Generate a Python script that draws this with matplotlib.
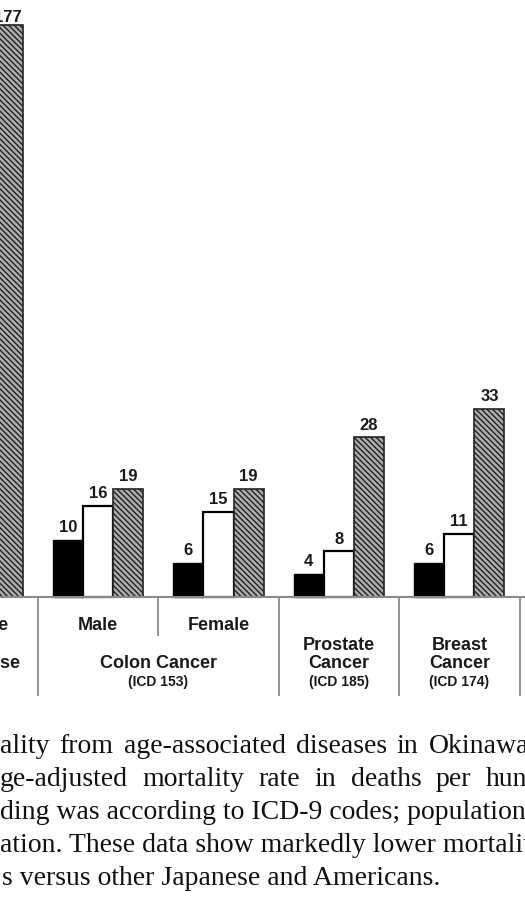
import matplotlib.pyplot as plt
import numpy as np

# values (deaths per 100,000, age-adjusted)
groups = ["Male", "Female", "Prostate Cancer", "Breast Cancer"]
okinawa = [10, 6, 4, 6]
japan = [16, 15, 8, 11]
usa = [19, 19, 28, 33]
# last bar of the group before (Coronary heart disease, female), cut by the left edge
prev_usa = 177

caption_lines = [
    "ality from age-associated diseases in Okinawa",
    "ge-adjusted mortality rate in deaths per hund",
    "ding was according to ICD-9 codes; population",
    "ation. These data show markedly lower mortality",
    "s versus other Japanese and Americans.",
]

# layout of the cropped picture (pixels)
W, H = 525, 900
PX_U = 30.1      # pixels per bar slot
X0 = 68.0        # pixel x of slot 0
PX_Y = 5.7       # pixels per unit of rate
BASE = 597       # pixel y of the baseline
CAP = 100.3      # tall bars are drawn broken at this height

plt.rcParams['hatch.color'] = '#474747'
plt.rcParams['hatch.linewidth'] = 1.0

fig = plt.figure(figsize=(W / 100, H / 100), dpi=100)
ax = fig.add_axes([0, 0, 1, 1])
ax.set_xlim(-X0 / PX_U, (W - X0) / PX_U)
ax.set_ylim(-(H - BASE) / PX_Y, BASE / PX_Y)
ax.axis('off')


def ypx(p):
    return (BASE - p) / PX_Y


sans = dict(family='Liberation Sans', fontweight='bold', color='#1a1a1a')
hatched = dict(width=1, color='#adadad', edgecolor='#222222', hatch='\\' * 6, lw=1.2)
x = np.arange(len(groups)) * 4

ax.bar(x, okinawa, width=1, color='black', edgecolor='black', lw=1)
ax.bar(x + 1, japan, width=1, color='white', edgecolor='black', lw=1.6)
ax.bar(x + 2, usa, **hatched)
ax.bar([-2], [min(prev_usa, CAP)], **hatched)

for xs, vals in [(x, okinawa), (x + 1, japan), (x + 2, usa)]:
    for xi, v in zip(xs, vals):
        ax.annotate(str(v), (xi, v), xytext=(0, 3.5), textcoords='offset points',
                    ha='center', va='bottom', fontsize=12, **sans)
ax.annotate(str(prev_usa), (-2, min(prev_usa, CAP)), xytext=(0, 0),
            textcoords='offset points', ha='center', va='bottom', fontsize=12, **sans)

# baseline and separators
ax.axhline(0, color='#8a8a8a', lw=1.5)
ax.vlines([-1, 7, 11, 15], ypx(696), 0, color='#8a8a8a', lw=1.3)
ax.vlines([3], ypx(636), 0, color='#8a8a8a', lw=1.3)

# category labels
ax.text(-3, ypx(626), "Female", ha='center', va='center', fontsize=13, **sans)
ax.text(-5, ypx(663), "Coronary Heart Disease", ha='center', va='center', fontsize=13, **sans)
ax.text(x[0] + 1, ypx(626), groups[0], ha='center', va='center', fontsize=13, **sans)
ax.text(x[1] + 1, ypx(626), groups[1], ha='center', va='center', fontsize=13, **sans)
ax.text(3, ypx(663), "Colon Cancer", ha='center', va='center', fontsize=13, **sans)
ax.text(3, ypx(682), "(ICD 153)", ha='center', va='center', fontsize=10, **sans)
for xi, name, icd in [(x[2] + 1, groups[2], "(ICD 185)"), (x[3] + 1, groups[3], "(ICD 174)")]:
    first, second = name.split(" ")
    ax.text(xi, ypx(646), first, ha='center', va='center', fontsize=13, **sans)
    ax.text(xi, ypx(664), second, ha='center', va='center', fontsize=13, **sans)
    ax.text(xi, ypx(682), icd, ha='center', va='center', fontsize=10, **sans)

# caption; the first two lines are justified in the source
serif = dict(family='Liberation Serif', fontsize=20, color='#111111', va='baseline')
renderer = fig.canvas.get_renderer()


def justify(line, x0, x1, base):
    words = line.split(" ")
    texts = [fig.text(0, 1 - base / H, w, **serif) for w in words]
    widths = [t.get_window_extent(renderer).width for t in texts]
    gap = (x1 - x0 - sum(widths)) / (len(words) - 1)
    pos = x0
    for t, w in zip(texts, widths):
        t.set_x(pos / W)
        pos += w + gap


justify(caption_lines[0], 0, 529, 753)
justify(caption_lines[1], 0, 541, 786)
fig.text(0 / W, 1 - 819 / H, caption_lines[2], **serif)
fig.text(0 / W, 1 - 852 / H, caption_lines[3], **serif)
fig.text(2 / W, 1 - 885 / H, caption_lines[4], **serif)

fig.savefig("out.png", dpi=100)
